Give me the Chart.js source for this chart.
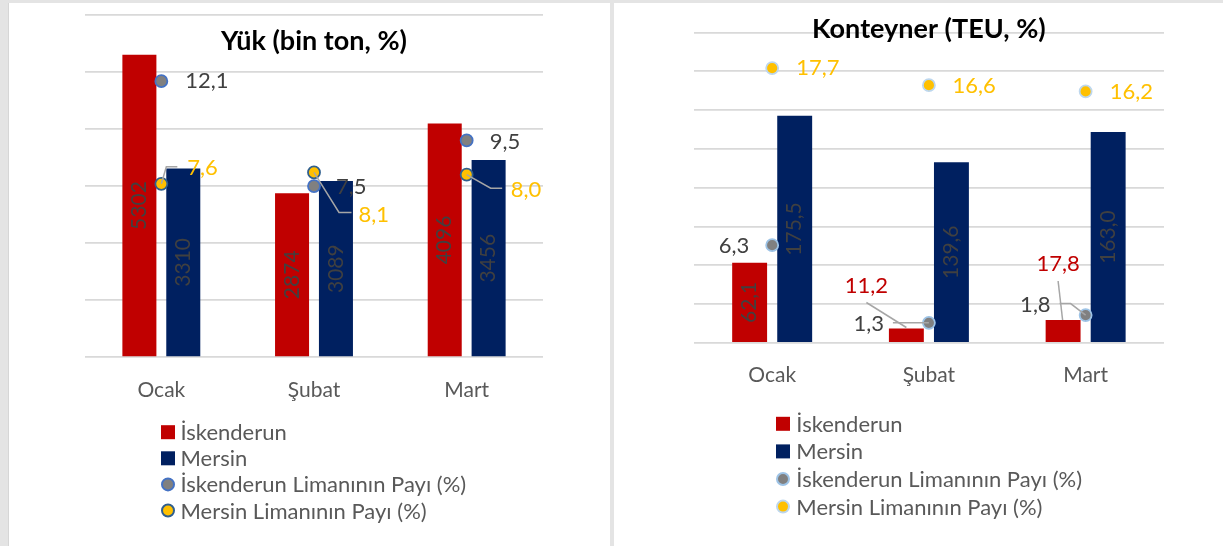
<!DOCTYPE html>
<html>
<head>
<meta charset="utf-8">
<script src="https://cdn.jsdelivr.net/npm/chart.js@4.4.1/dist/chart.umd.min.js"></script>
<style>
  html, body { margin: 0; padding: 0; }
  body { width: 1223px; height: 546px; background: #e4e4e4; position: relative; overflow: hidden; }
  .panel { position: absolute; top: 3px; height: 543px; background: #fff; }
  #p1 { left: 8px; width: 601px; border-left: 1px solid #d6d6d6; }
  #p2 { left: 614px; width: 609px; }
  canvas { display: block; }
</style>
</head>
<body>
<div class="panel" id="p1"><canvas id="yuk" width="601" height="543"></canvas></div>
<div class="panel" id="p2"><canvas id="teu" width="609" height="543"></canvas></div>
<script>
// aylar
const months = ['Ocak', 'Şubat', 'Mart'];

// Yük (bin ton, %)
const yukIskenderun = [5302, 2874, 4096];
const yukMersin = [3310, 3089, 3456];
const yukIskPay = [12.1, 7.5, 9.5];
const yukMersinPay = [7.6, 8.1, 8.0];

// Konteyner (TEU, %)
const teuIskenderun = [62.1, 11.2, 17.8];
const teuMersin = [175.5, 139.6, 163.0];
const teuIskPay = [6.3, 1.3, 1.8];
const teuMersinPay = [17.7, 16.6, 16.2];

// eksen aralıkları [max, adım]
const yukAxis = [6000, 1000];
const yukPayAxis = [15];
const teuAxis = [240, 30];
const teuPayAxis = [20];

const legendNames = ['İskenderun', 'Mersin', 'İskenderun Limanının Payı (%)', 'Mersin Limanının Payı (%)'];

Chart.defaults.font.family = 'Lato';

const trNum = (d) => (v) => v.toFixed(d).replace('.', ',');

// etiket yerleri (piksel kaydırma), veri değil
const yukPlace = [
  [{rot: true}, {rot: true}, {rot: true}],
  [{rot: true}, {rot: true}, {rot: true}],
  [{dx: 24, dy: 0}, {dx: 22, dy: 1}, {dx: 23, dy: 1}],
  [{dx: 26, dy: -16, leader: [[0, 0], [5, -17], [16, -17]]},
   {dx: 44.5, dy: 42, leader: [[0, 0], [25, 40], [37.5, 40]]},
   {dx: 44, dy: 15, leader: [[0, 0], [24, 13.5], [35.5, 13.5]]}]
];
const teuPlace = [
  [{rot: true},
   {dx: -40, dy: -43, align: 'center', color: '#C00000', leader: [[0, -1], [-40, -26]]},
   {dx: -5, dy: -56, align: 'center', color: '#C00000', leader: [[-0.5, 0], [-5, -39]]}],
  [{rot: true}, {rot: true}, {rot: true}],
  [{dx: -23, dy: 1, align: 'right'},
   {dx: -45, dy: 1, align: 'right', leader: [[0, 0], [-36, 0]]},
   {dx: -35, dy: -10.5, align: 'right', leader: [[0, 0], [-15, -11.5], [-26, -11.5]]}],
  [{dx: 24, dy: 0}, {dx: 23.6, dy: 0.7}, {dx: 24, dy: 0.7}]
];

const etiketler = {
  id: 'etiketler',
  afterDatasetsDraw(chart, args, opts) {
    const ctx = chart.ctx;
    ctx.save();
    chart.data.datasets.forEach((ds, di) => {
      const meta = chart.getDatasetMeta(di);
      meta.data.forEach((el, i) => {
        const p = opts.place[di][i];
        const txt = opts.fmt[di](ds.data[i]);
        if (p.rot) {
          ctx.save();
          ctx.font = '21px Lato';
          ctx.translate(el.x, (el.y + el.base) / 2);
          ctx.rotate(-Math.PI / 2);
          ctx.fillStyle = '#404040';
          ctx.textAlign = 'center';
          ctx.textBaseline = 'middle';
          ctx.fillText(txt, 0, 0);
          ctx.restore();
          return;
        }
        if (p.leader) {
          ctx.beginPath();
          p.leader.forEach((pt, k) => {
            if (k == 0) ctx.moveTo(el.x + pt[0], el.y + pt[1]);
            else ctx.lineTo(el.x + pt[0], el.y + pt[1]);
          });
          ctx.strokeStyle = '#a6a6a6';
          ctx.lineWidth = 1.5;
          ctx.stroke();
        }
        ctx.font = '22px Lato';
        ctx.fillStyle = p.color || opts.colors[di];
        ctx.textAlign = p.align || 'left';
        ctx.textBaseline = 'middle';
        ctx.fillText(txt, el.x + (p.dx || 0), el.y + (p.dy || 0));
      });
    });
    ctx.restore();
  },
  afterDraw(chart, args, opts) {
    const ctx = chart.ctx;
    const area = chart.chartArea;
    ctx.save();
    // başlık
    ctx.font = 'bold 27px Lato';
    ctx.fillStyle = '#000';
    ctx.textAlign = 'center';
    ctx.textBaseline = 'middle';
    ctx.fillText(opts.title, (area.left + area.right) / 2, opts.titleY);
    // lejant
    const lg = opts.legend;
    ctx.font = '22px Lato';
    ctx.textAlign = 'left';
    chart.data.datasets.forEach((ds, di) => {
      const y = lg.y + di * lg.step;
      if (ds.type == 'line') {
        ctx.beginPath();
        ctx.arc(lg.x + 7, y, 6, 0, Math.PI * 2);
        ctx.fillStyle = ds.backgroundColor;
        ctx.fill();
        ctx.lineWidth = 2;
        ctx.strokeStyle = ds.borderColor;
        ctx.stroke();
      } else {
        ctx.fillStyle = ds.backgroundColor;
        ctx.fillRect(lg.x, y - 7, 14, 14);
      }
      ctx.fillStyle = '#595959';
      ctx.fillText(ds.label, lg.x + lg.textGap, y + 1);
    });
    ctx.restore();
  }
};

function makeChart(id, d, opt) {
  return new Chart(document.getElementById(id), {
    type: 'bar',
    data: {
      labels: months,
      datasets: [
        {label: legendNames[0], data: d[0], backgroundColor: '#C00000', order: 1,
         categoryPercentage: 0.575, barPercentage: 0.775},
        {label: legendNames[1], data: d[1], backgroundColor: '#002060', order: 1,
         categoryPercentage: 0.575, barPercentage: 0.775},
        {type: 'line', label: legendNames[2], data: d[2], yAxisID: 'y2', showLine: false, order: 0,
         backgroundColor: '#808080', borderColor: opt.iskBorder, pointRadius: 6, pointBorderWidth: 1.8},
        {type: 'line', label: legendNames[3], data: d[3], yAxisID: 'y2', showLine: false, order: 0,
         backgroundColor: '#FFC000', borderColor: opt.merBorder, pointRadius: 6, pointBorderWidth: 1.8}
      ]
    },
    options: {
      responsive: false,
      animation: false,
      layout: {padding: opt.padding},
      scales: {
        x: {
          grid: {display: false, drawTicks: false},
          border: {display: false},
          ticks: {color: '#595959', font: {size: 21}, padding: 20}
        },
        y: {
          min: 0, max: opt.axis[0],
          ticks: {display: false, stepSize: opt.axis[1]},
          grid: {color: '#d9d9d9', lineWidth: 1.8, drawTicks: false},
          border: {display: false}
        },
        y2: {display: false, position: 'right', min: 0, max: opt.payAxis[0]}
      },
      plugins: {
        legend: {display: false},
        tooltip: {enabled: false},
        etiketler: {
          place: opt.place,
          fmt: opt.fmt,
          colors: ['#404040', '#404040', '#404040', '#FFC000'],
          title: opt.title,
          titleY: opt.titleY,
          legend: opt.legend
        }
      }
    },
    plugins: [etiketler]
  });
}

makeChart('yuk', [yukIskenderun, yukMersin, yukIskPay, yukMersinPay], {
  axis: yukAxis, payAxis: yukPayAxis,
  padding: {left: 76, right: 67, top: 12, bottom: 123.6},
  iskBorder: '#4472C4', merBorder: '#2F5F8F',
  place: yukPlace,
  fmt: [trNum(0), trNum(0), trNum(1), trNum(1)],
  title: 'Yük (bin ton, %)', titleY: 38,
  legend: {x: 152, y: 429.2, step: 26.1, textGap: 19.5}
});

makeChart('teu', [teuIskenderun, teuMersin, teuIskPay, teuMersinPay], {
  axis: teuAxis, payAxis: teuPayAxis,
  padding: {left: 79.8, right: 59, top: 29.4, bottom: 137.8},
  iskBorder: '#9DC3E6', merBorder: '#BDD7EE',
  place: teuPlace,
  fmt: [trNum(1), trNum(1), trNum(1), trNum(1)],
  title: 'Konteyner (TEU, %)', titleY: 26.6,
  legend: {x: 162, y: 420.8, step: 27.6, textGap: 20.3}
});
</script>
</body>
</html>
